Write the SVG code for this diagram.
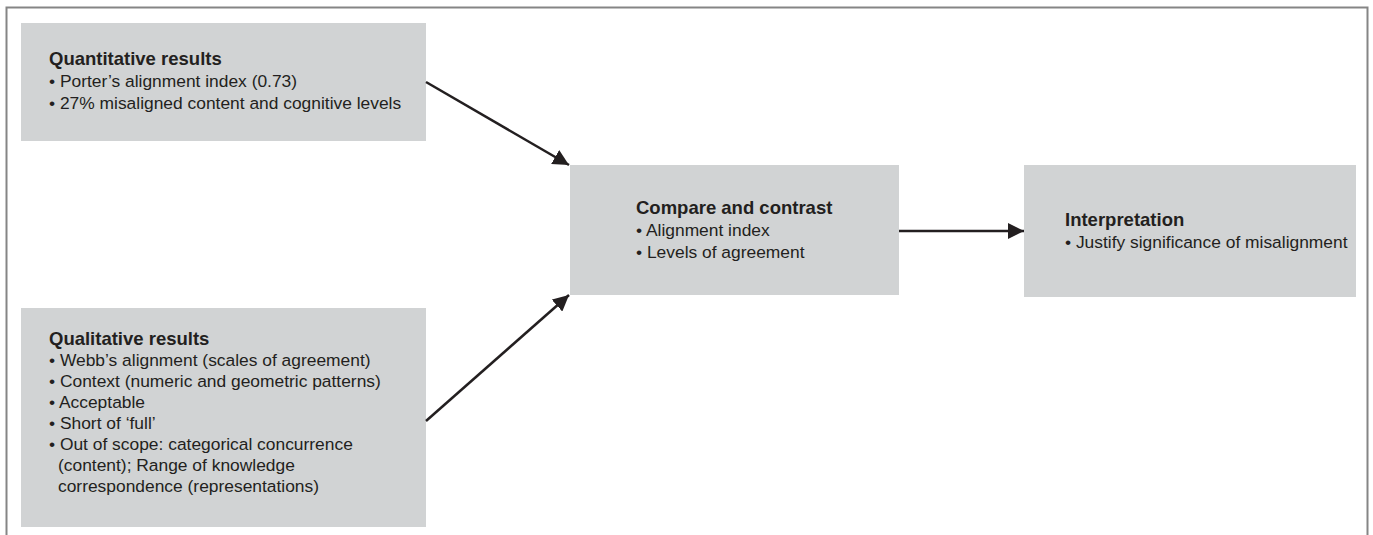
<svg xmlns="http://www.w3.org/2000/svg" width="1373" height="535" viewBox="0 0 1373 535">
<defs>
<style>
.box{fill:#d1d3d4;}
.t{font-family:"Liberation Sans",Arial,sans-serif;font-size:17.4px;fill:#231f20;}
.h{font-family:"Liberation Sans",Arial,sans-serif;font-size:18.5px;font-weight:bold;fill:#231f20;}
.conn{stroke:#231f20;stroke-width:2.5;fill:none;}
.frame{stroke:#858585;stroke-width:2;fill:none;}
</style>
<marker id="ah" markerUnits="userSpaceOnUse" markerWidth="16" markerHeight="16" viewBox="0 0 16 16" refX="16" refY="8" orient="auto">
<path d="M0,0 L16,8 L0,16 Z" fill="#231f20"/>
</marker>
</defs>
<rect width="1373" height="535" fill="#ffffff"/>
<path class="frame" d="M6.5,535 V7.5 H1367.5 V535"/>
<g id="quantitative">
<rect class="box" x="21" y="23" width="405" height="118"/>
<text class="h" x="49" y="65">Quantitative results</text>
<text class="t" x="49" y="87">• Porter’s alignment index (0.73)</text>
<text class="t" x="49" y="109">• 27% misaligned content and cognitive levels</text>
</g>
<g id="qualitative">
<rect class="box" x="21" y="308" width="405" height="219"/>
<text class="h" x="49" y="345">Qualitative results</text>
<text class="t" x="49" y="366">• Webb’s alignment (scales of agreement)</text>
<text class="t" x="49" y="387">• Context (numeric and geometric patterns)</text>
<text class="t" x="49" y="408">• Acceptable</text>
<text class="t" x="49" y="429">• Short of ‘full’</text>
<text class="t" x="49" y="450">• Out of scope: categorical concurrence</text>
<text class="t" x="58" y="471">(content); Range of knowledge</text>
<text class="t" x="58" y="492">correspondence (representations)</text>
</g>
<g id="compare">
<rect class="box" x="570" y="165" width="329" height="130"/>
<text class="h" x="636" y="214">Compare and contrast</text>
<text class="t" x="636" y="236">• Alignment index</text>
<text class="t" x="636" y="258">• Levels of agreement</text>
</g>
<g id="interpretation">
<rect class="box" x="1024" y="165" width="332" height="132"/>
<text class="h" x="1065" y="226">Interpretation</text>
<text class="t" x="1065" y="248">• Justify significance of misalignment</text>
</g>
<g id="connectors">
<line class="conn" x1="426" y1="82" x2="569" y2="165" marker-end="url(#ah)"/>
<line class="conn" x1="426" y1="421" x2="569" y2="295" marker-end="url(#ah)"/>
<line class="conn" x1="899" y1="231" x2="1024" y2="231" marker-end="url(#ah)"/>
</g>
</svg>
